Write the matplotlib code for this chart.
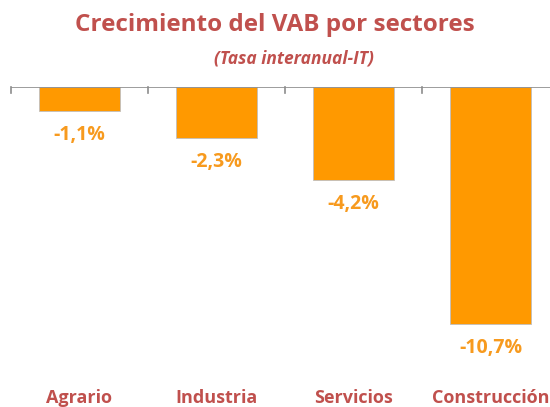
import matplotlib
matplotlib.use("Agg")
import matplotlib.pyplot as plt

sectores = ["Agrario", "Industria", "Servicios", "Construcción"]
tasas = [-1.1, -2.3, -4.2, -10.7]
etiquetas = ["-1,1%", "-2,3%", "-4,2%", "-10,7%"]

rojo = "#C0504D"
naranja = "#FF9900"
naranja_txt = "#F79A1E"

plt.rcParams["font.family"] = ["Open Sans", "DejaVu Sans"]

fig = plt.figure(figsize=(5.5, 4.07), dpi=100)
# axes: left edge at 11px, top (y=0) at 87px, 137px per category
ax = fig.add_axes([11 / 550, 1 - 360 / 407, 548 / 550, (360 - 87) / 407])

x = range(len(sectores))
ax.bar(x, tasas, width=0.59, color=naranja, edgecolor="#BFBFBF", linewidth=0.6, zorder=2)

for xi, v, t in zip(x, tasas, etiquetas):
    ax.annotate(t, (xi, v), xytext=(0, -10), textcoords="offset points",
                ha="center", va="top", color=naranja_txt, fontsize=14, fontweight="bold")

ax.set_xlim(-0.5, 3.5)
ax.set_ylim(-12.3, 0)
ax.axhline(0, color="#8C8C8C", linewidth=1.2, zorder=3)
for b in [-0.5, 0.5, 1.5, 2.5, 3.5]:
    ax.plot([b, b], [0, -0.27], color="#8C8C8C", linewidth=1.2, clip_on=False, zorder=3)

for s in ax.spines.values():
    s.set_visible(False)
ax.set_yticks([])
ax.set_xticks(list(x))
ax.set_xticklabels(sectores, color=rojo, fontsize=13, fontweight="bold")
ax.tick_params(axis="x", length=0, pad=21)

fig.text(0.5, 1 - 25 / 407, "Crecimiento del VAB por sectores", ha="center", va="center",
         color=rojo, fontsize=17.5, fontweight="bold")
fig.text(0.535, 1 - 58 / 407, "(Tasa interanual-IT)", ha="center", va="center",
         color=rojo, fontsize=12.5, fontweight="bold", style="italic")

fig.savefig("out.png", dpi=100)
